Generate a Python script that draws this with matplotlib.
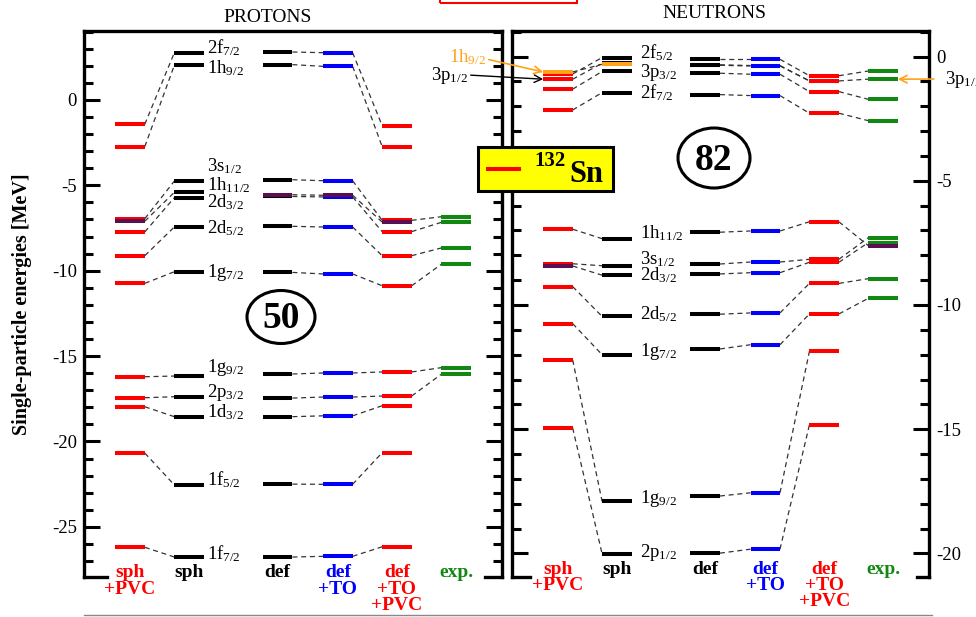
import matplotlib
matplotlib.use('Agg')
import matplotlib.pyplot as plt
from matplotlib.patches import Ellipse, Rectangle
from matplotlib.lines import Line2D
from matplotlib.ticker import MultipleLocator

plt.rcParams['font.family'] = 'Liberation Serif'
plt.rcParams['mathtext.fontset'] = 'custom'
plt.rcParams['mathtext.rm'] = 'Liberation Serif'
plt.rcParams['mathtext.it'] = 'Liberation Serif:italic'
plt.rcParams['mathtext.bf'] = 'Liberation Serif:bold'
plt.rcParams['axes.unicode_minus'] = False

# columns of the level scheme
columns = ['sph\n+PVC', 'sph', 'def', 'def\n+TO', 'def\n+TO\n+PVC', 'exp.']

# protons (MeV), one list per column, same orbital order
p_orbitals = ['2f_{7/2}', '1h_{9/2}', '3s_{1/2}', '1h_{11/2}', '2d_{3/2}', '2d_{5/2}',
              '1g_{7/2}', '1g_{9/2}', '2p_{3/2}', '1d_{3/2}', '1f_{5/2}', '1f_{7/2}']
p_sph_pvc = [-1.42, -2.73, -6.95, -7.10, -7.73, -9.12, -10.74, -16.21, -17.44, -17.97, -20.68, -26.20]
p_sph = [2.77, 2.03, -4.75, -5.41, -5.72, -7.44, -10.06, -16.17, -17.38, -18.55, -22.55, -26.77]
p_def = [2.81, 2.07, -4.67, -5.55, -5.65, -7.40, -10.10, -16.05, -17.46, -18.55, -22.50, -26.77]
p_def_to = [2.77, 1.97, -4.73, -5.58, -5.68, -7.44, -10.19, -15.99, -17.40, -18.50, -22.51, -26.73]
p_def_to_pvc = [-1.50, -2.73, -7.05, -7.15, -7.71, -9.12, -10.88, -15.93, -17.34, -17.91, -20.66, -26.17]
p_exp = [None, None, -6.84, None, -7.17, -8.67, -9.63, -15.68, -16.07, None, None, None]
p_label_y = [3.03, 1.86, -3.9, -4.98, -5.96, -7.5, -10.06, -15.64, -17.09, -18.26, -22.26, -26.6]

# neutrons (MeV)
n_orbitals = ['2f_{5/2}', '1h_{9/2}', '3p_{1/2}', '3p_{3/2}', '2f_{7/2}', '1h_{11/2}',
              '3s_{1/2}', '2d_{3/2}', '2d_{5/2}', '1g_{7/2}', '1g_{9/2}', '2p_{1/2}']
n_sph_pvc = [-0.70, -0.62, -0.91, -1.31, -2.15, -6.95, -8.34, -8.43, -9.26, -10.75, -12.21, -14.95]
n_sph = [-0.04, -0.31, -0.27, -0.60, -1.45, -7.33, -8.42, -8.80, -10.46, -12.00, -17.91, -20.02]
n_def = [-0.11, -0.33, -0.35, -0.67, -1.53, -7.07, -8.35, -8.75, -10.37, -11.77, -17.69, -19.99]
n_def_to = [-0.11, -0.36, -0.38, -0.71, -1.57, -7.02, -8.27, -8.70, -10.32, -11.60, -17.56, -19.83]
n_def_to_pvc = [-0.77, -0.98, -0.98, -1.41, -2.28, -6.65, -8.16, -8.28, -9.13, -10.36, -11.86, -14.82]
n_exp = [-0.58, None, -0.91, -1.72, -2.58, -7.61, -7.29, -7.49, -8.94, -9.73, None, None]
n_label_y = [0.14, None, None, -0.64, -1.47, -7.11, -8.16, -8.8, -10.37, -11.85, -17.79, -19.93]

red, blue, green = '#ff0000', '#0000ff', '#118811'
purple, orange = '#5a1050', '#ffa31a'
col_colors = [red, 'black', 'black', blue, red, green]
col_x = [0, 1, 2.5, 3.52, 4.52, 5.52]
hw = 0.25

p_special = {(0, 3): purple, (2, 3): purple, (3, 3): purple, (4, 3): purple}
n_special = {(0, 1): orange, (1, 1): orange, (0, 7): purple, (5, 5): purple}


def draw_levels(ax, levels, special):
    # dashed connectors, none between sph and def (names go there)
    for c in [0, 2, 3, 4]:
        for e1, e2 in zip(levels[c], levels[c + 1]):
            if e1 is None or e2 is None:
                continue
            ax.plot([col_x[c] + hw, col_x[c + 1] - hw], [e1, e2], ls=(0, (4, 3)),
                    lw=0.9, color='#333333', zorder=1)
    for c, col in enumerate(levels):
        order = sorted(range(len(col)), key=lambda i: (c, i) in special)
        for i in order:
            if col[i] is None:
                continue
            ax.plot([col_x[c] - hw, col_x[c] + hw], [col[i], col[i]], lw=2.9,
                    color=special.get((c, i), col_colors[c]), solid_capstyle='butt', zorder=2)


def style_axes(ax, ylim, right_labels, stubs, lab_y):
    ax.set_xlim(-0.78, 6.3)
    ax.set_ylim(*ylim)
    ax.yaxis.set_major_locator(MultipleLocator(5))
    ax.yaxis.set_minor_locator(MultipleLocator(1))
    ax.tick_params(axis='x', which='both', bottom=False, labelbottom=False)
    ax.tick_params(axis='y', which='major', direction='in', length=11.5, width=2.2,
                   left=True, right=True, labelleft=not right_labels,
                   labelright=right_labels, labelsize=13.5, pad=5)
    ax.tick_params(axis='y', which='minor', direction='in', length=6.5, width=2.2,
                   left=True, right=True)
    for s in ['left', 'right', 'top']:
        ax.spines[s].set_linewidth(2.4)
    ax.spines['bottom'].set_visible(False)
    for a, b in stubs:
        ax.plot([a, b], [0, 0], color='black', lw=2.4, transform=ax.transAxes,
                clip_on=False, solid_capstyle='projecting')
    for c, name in enumerate(columns):
        ax.text(col_x[c], lab_y, name, transform=ax.get_xaxis_transform(), ha='center',
                va='top', color=col_colors[c], fontweight='bold', fontsize=14,
                linespacing=0.95)


def draw_names(ax, names, ys, x, dy):
    for name, y in zip(names, ys):
        if y is None:
            continue
        main, sub = name.split('_')
        ax.text(x, y - dy, r'$\mathrm{' + main + '}_{' + sub[1:-1] + '}$',
                fontsize=13.5, ha='left', va='baseline')


fig = plt.figure(figsize=(9.76, 6.17), dpi=100)
ax_p = fig.add_axes([84 / 976, 40 / 617, 418 / 976, 546 / 617])
ax_n = fig.add_axes([512 / 976, 40 / 617, 417 / 976, 546 / 617])

draw_levels(ax_p, [p_sph_pvc, p_sph, p_def, p_def_to, p_def_to_pvc, p_exp], p_special)
draw_levels(ax_n, [n_sph_pvc, n_sph, n_def, n_def_to, n_def_to_pvc, n_exp], n_special)
style_axes(ax_p, (-27.94, 4.04), False, [(0, 0.055), (0.959, 1)], 0.023)
style_axes(ax_n, (-20.95, 1.03), True, [(0, 0.043), (0.971, 1)], 0.030)
draw_names(ax_p, p_orbitals, p_label_y, 1.31, 0.3)
draw_names(ax_n, n_orbitals, n_label_y, 1.40, 0.2)

# arrows to the 1h9/2 and 3p1/2 levels
ax_n.annotate(r'$\mathrm{1h}_{9/2}$', xy=(col_x[0] - hw, n_sph_pvc[1]),
              xytext=(449, 617 - 57), textcoords='figure pixels', color=orange,
              fontsize=13.5, ha='left', va='center', annotation_clip=False,
              arrowprops=dict(arrowstyle='->', color=orange, lw=1.2, relpos=(1, 0.4),
                              shrinkA=0, shrinkB=0))
ax_n.annotate(r'$\mathrm{3p}_{1/2}$', xy=(col_x[0] - hw, n_sph_pvc[2]),
              xytext=(431, 617 - 75), textcoords='figure pixels', color='black',
              fontsize=13.5, ha='left', va='center', annotation_clip=False,
              arrowprops=dict(arrowstyle='->', color='black', lw=1.0, relpos=(1, 0.5),
                              shrinkA=0, shrinkB=0))
ax_n.annotate(r'$\mathrm{3p}_{1/2}$', xy=(col_x[5] + hw, n_exp[2]),
              xytext=(945, 617 - 79), textcoords='figure pixels', color='black',
              fontsize=13.5, ha='left', va='center', annotation_clip=False,
              arrowprops=dict(arrowstyle='->', color=orange, lw=1.2, relpos=(0, 0.5),
                              shrinkA=6, shrinkB=0))

fig.text(22 / 976, 1 - 304 / 617, 'Single-particle energies [MeV]', rotation=90,
         ha='center', va='center', fontsize=14.5, fontweight='bold')
fig.text(268 / 976, 1 - 17 / 617, 'PROTONS', ha='center', va='center', fontsize=14)
fig.text(714 / 976, 1 - 14 / 617, 'NEUTRONS', ha='center', va='center', fontsize=14)

# magic numbers
for cx, cy, w, h, s in [(281, 317, 68, 53, '50'), (714, 158, 72, 60, '82')]:
    fig.add_artist(Ellipse((cx / 976, 1 - cy / 617), w / 976, h / 617, facecolor='none',
                           edgecolor='black', lw=2.2, zorder=5))
    fig.text(cx / 976, 1 - (cy + 2) / 617, s, ha='center', va='center', fontsize=27,
             fontweight='bold', zorder=6)

# 132Sn box
fig.add_artist(Rectangle((478 / 976, 1 - 190.7 / 617), 134.7 / 976, 43.7 / 617,
                         facecolor='#ffff00', edgecolor='black', lw=2.2, zorder=7))
fig.add_artist(Line2D([488 / 976, 519 / 976], [1 - 168.7 / 617] * 2, color=red, lw=2.9, zorder=8))
fig.text(534 / 976, 1 - 161 / 617, '132', ha='left', va='center', fontsize=15,
         fontweight='bold', zorder=8)
fig.text(569 / 976, 1 - 174 / 617, 'Sn', ha='left', va='center', fontsize=22,
         fontweight='bold', zorder=8)

# bits of the page around the figure
fig.add_artist(Rectangle((440 / 976, 1 - 3 / 617), 137 / 976, 12 / 617, facecolor='none',
                         edgecolor=red, lw=1.5, zorder=5))
fig.add_artist(Line2D([84 / 976, 932 / 976], [2 / 617] * 2, color='#888888', lw=1.0))

fig.savefig('out.png', dpi=100)
